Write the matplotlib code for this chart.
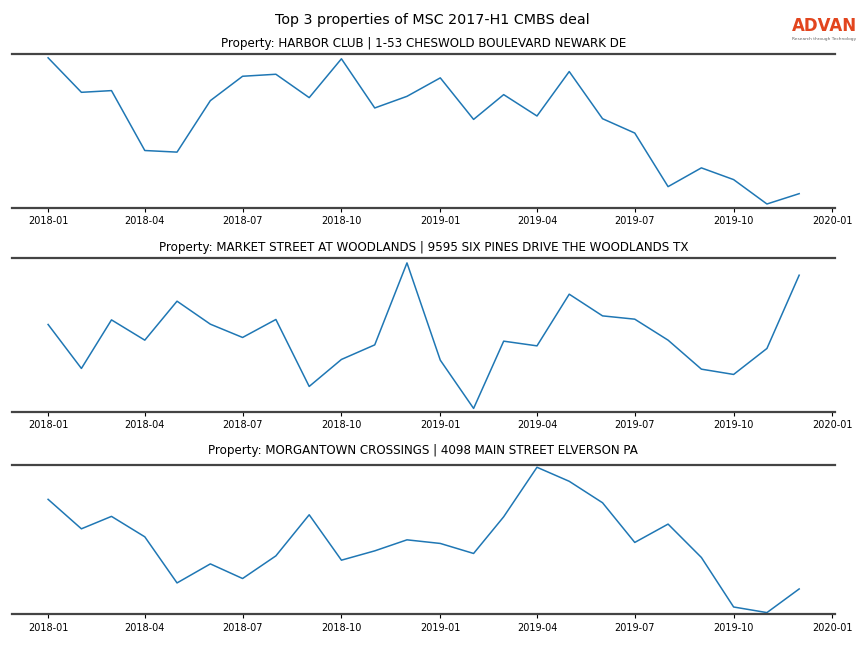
import numpy as np
import pandas as pd
import matplotlib
matplotlib.use("Agg")
import matplotlib.pyplot as plt
import matplotlib.dates as mdates

# monthly index, Jan 2018 - Dec 2019
months = pd.date_range("2018-01-01", "2019-12-01", freq="MS")

# relative visit level per property
harbor_club = [149.7, 115.3, 117.0, 57.3, 55.7, 107.0, 131.3, 133.3, 110.0, 148.7, 99.7, 111.3,
               129.7, 88.3, 113.0, 91.7, 136.0, 89.0, 74.7, 21.3, 40.0, 28.3, 4.0, 14.3]
market_street = [87.7, 43.7, 92.3, 72.0, 111.0, 88.0, 74.7, 92.7, 25.7, 52.7, 67.3, 149.3,
                 52.0, 3.7, 71.0, 66.3, 118.0, 96.3, 93.0, 72.0, 43.0, 37.7, 63.7, 137.0]
morgantown = [114.7, 85.3, 97.7, 77.3, 31.3, 50.3, 35.7, 58.3, 99.3, 54.0, 63.3, 74.3,
              70.7, 60.7, 97.3, 146.7, 132.7, 111.3, 71.7, 90.0, 56.7, 7.3, 1.7, 25.3]

titles = [
    "Property: HARBOR CLUB | 1-53 CHESWOLD BOULEVARD NEWARK DE",
    "Property: MARKET STREET AT WOODLANDS | 9595 SIX PINES DRIVE THE WOODLANDS TX",
    "Property: MORGANTOWN CROSSINGS | 4098 MAIN STREET ELVERSON PA",
]
series = [harbor_club, market_street, morgantown]
spans = [153.7, 154.3, 148.7]
pads = [5, 5, 8]

fig = plt.figure(figsize=(8.64, 6.48), dpi=100)
fig.suptitle("Top 3 properties of MSC 2017-H1 CMBS deal", fontsize=10.3, y=0.98)

# axes boxes in figure fraction: left, bottom, width, height
boxes = [
    [0.014, 0.679, 0.952, 0.238],
    [0.014, 0.364, 0.952, 0.238],
    [0.014, 0.052, 0.952, 0.230],
]

for box, vals, title, span, pad in zip(boxes, series, titles, spans, pads):
    ax = fig.add_axes(box)
    ax.plot(months, vals, color="#1f77b4", linewidth=1.1)
    ax.set_title(title, fontsize=8.6, pad=pad)
    ax.set_ylim(0, span)
    ax.set_yticks([])
    ax.spines["left"].set_visible(False)
    ax.spines["right"].set_visible(False)
    for side in ["top", "bottom"]:
        ax.spines[side].set_color("#444444")
        ax.spines[side].set_linewidth(1.6)
    ax.xaxis.set_major_locator(mdates.MonthLocator(bymonth=[1, 4, 7, 10]))
    ax.xaxis.set_major_formatter(mdates.DateFormatter("%Y-%m"))
    ax.tick_params(axis="x", labelsize=7, length=3, width=0.8, pad=3)
    ax.set_xlim(pd.Timestamp("2017-11-28 12:00"), pd.Timestamp("2020-01-03"))

# logo text in the top-right corner
fig.text(0.954, 0.960, "ADVAN", color="#E2451E", fontsize=12, fontweight="bold",
         ha="center", va="center")
fig.text(0.954, 0.940, "Research through Technology", color="#666666", fontsize=3.2,
         ha="center", va="center")

plt.savefig("out.png", dpi=100)
